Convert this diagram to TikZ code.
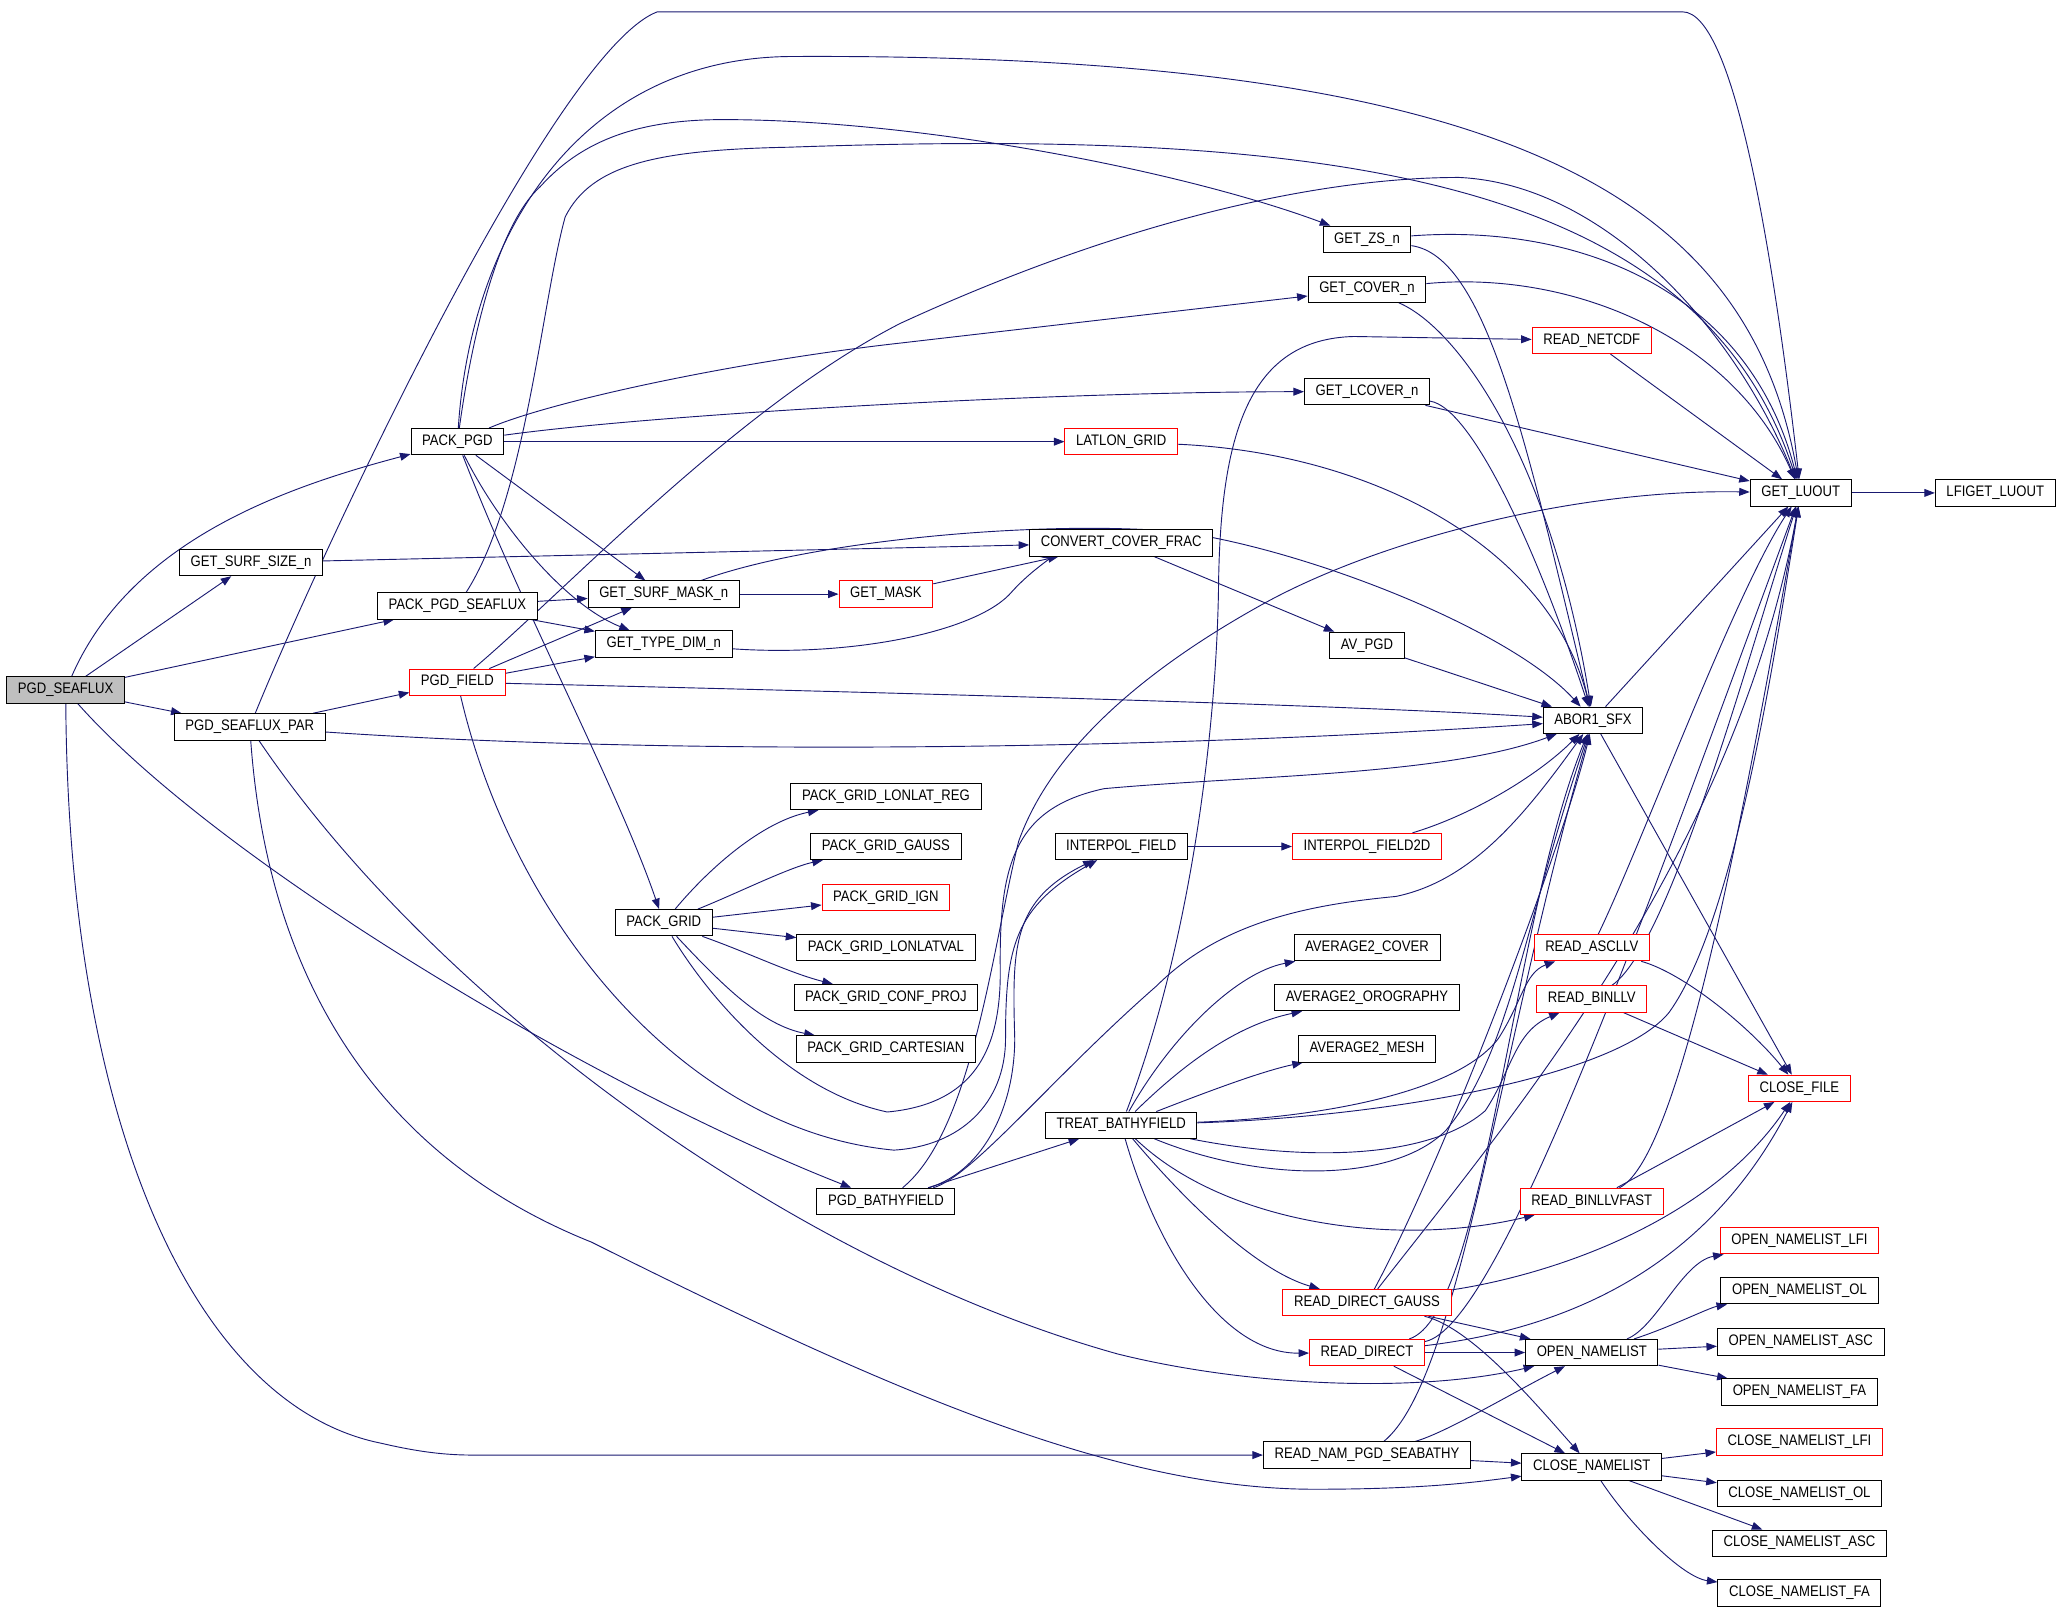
\documentclass[tikz,border=0pt]{standalone}
\usepackage{fontspec}
\newfontfamily\dxfont{Liberation Sans}[FakeStretch=0.86]
\usepackage{xcolor}
\usetikzlibrary{arrows.meta}
\usetikzlibrary{backgrounds}
\definecolor{midnight}{RGB}{25,25,112}
\tikzset{fn/.style={draw=black, fill=white, line width=0.75pt, minimum height=20pt,
   inner xsep=8.5pt, inner ysep=0pt, font=\dxfont\fontsize{11.6}{12}\selectfont},
 fnred/.style={fn, draw=red},
 fnroot/.style={fn, fill=black!25},
 call/.style={draw=midnight, line width=0.7pt, -{Triangle[length=8pt,width=6pt]}},
 }

\begin{document}
\begin{tikzpicture}[x=1pt, y=-1pt]
        \useasboundingbox (0,0) rectangle (1568,1228);
        \node[fnroot] (seaflux) at (50,525) {PGD\_SEAFLUX};
        \node[fn] (surfsize) at (191,428) {GET\_SURF\_SIZE\_n};
        \node[fn] (seafluxpar) at (190,553) {PGD\_SEAFLUX\_PAR};
        \node[fn] (packpgd) at (348,336) {PACK\_PGD};
        \node[fn] (packseaflux) at (348,461) {PACK\_PGD\_SEAFLUX};
        \node[fnred] (pgdfield) at (348,519) {PGD\_FIELD};
        \node[fn] (surfmask) at (505,452) {GET\_SURF\_MASK\_n};
        \node[fn] (typedim) at (505,490) {GET\_TYPE\_DIM\_n};
        \node[fnred] (getmask) at (674,452) {GET\_MASK};
        \node[fn] (convert) at (853,413) {CONVERT\_COVER\_FRAC};
        \node[fnred] (latlon) at (853,336) {LATLON\_GRID};
        \node[fn] (getzs) at (1040,182) {GET\_ZS\_n};
        \node[fn] (getcover) at (1040,220) {GET\_COVER\_n};
        \node[fnred] (readnetcdf) at (1211,259) {READ\_NETCDF};
        \node[fn] (getlcover) at (1040,298) {GET\_LCOVER\_n};
        \node[fn] (luout) at (1370,375) {GET\_LUOUT};
        \node[fn] (lfiget) at (1518,375) {LFIGET\_LUOUT};
        \node[fn] (avpgd) at (1040,491) {AV\_PGD};
        \node[fn] (abor) at (1212,548) {ABOR1\_SFX};
        \node[fn] (lonlatreg) at (674,606) {PACK\_GRID\_LONLAT\_REG};
        \node[fn] (gauss) at (674,644) {PACK\_GRID\_GAUSS};
        \node[fnred] (ign) at (674,683) {PACK\_GRID\_IGN};
        \node[fn] (packgrid) at (505,702) {PACK\_GRID};
        \node[fn] (lonlatval) at (674,721) {PACK\_GRID\_LONLATVAL};
        \node[fn] (confproj) at (674,759) {PACK\_GRID\_CONF\_PROJ};
        \node[fn] (cartesian) at (674,798) {PACK\_GRID\_CARTESIAN};
        \node[fn] (interpol) at (853,644) {INTERPOL\_FIELD};
        \node[fnred] (interpol2d) at (1040,644) {INTERPOL\_FIELD2D};
        \node[fn] (avcover) at (1040,721) {AVERAGE2\_COVER};
        \node[fn] (avoro) at (1040,759) {AVERAGE2\_OROGRAPHY};
        \node[fn] (avmesh) at (1040,798) {AVERAGE2\_MESH};
        \node[fnred] (readascllv) at (1211,721) {READ\_ASCLLV};
        \node[fnred] (readbinllv) at (1211,760) {READ\_BINLLV};
        \node[fnred] (closefile) at (1369,828) {CLOSE\_FILE};
        \node[fn] (treat) at (853,856) {TREAT\_BATHYFIELD};
        \node[fn] (bathy) at (674,914) {PGD\_BATHYFIELD};
        \node[fnred] (readfast) at (1211,914) {READ\_BINLLVFAST};
        \node[fnred] (onlfi) at (1369,944) {OPEN\_NAMELIST\_LFI};
        \node[fnred] (readgauss) at (1040,991) {READ\_DIRECT\_GAUSS};
        \node[fn] (onol) at (1369,982) {OPEN\_NAMELIST\_OL};
        \node[fnred] (readdirect) at (1040,1029) {READ\_DIRECT};
        \node[fn] (opennam) at (1211,1029) {OPEN\_NAMELIST};
        \node[fn] (onasc) at (1370,1021) {OPEN\_NAMELIST\_ASC};
        \node[fn] (onfa) at (1369,1059) {OPEN\_NAMELIST\_FA};
        \node[fn] (readnam) at (1040,1107) {READ\_NAM\_PGD\_SEABATHY};
        \node[fn] (closenam) at (1211,1116) {CLOSE\_NAMELIST};
        \node[fnred] (cnlfi) at (1369,1097) {CLOSE\_NAMELIST\_LFI};
        \node[fn] (cnol) at (1369,1136) {CLOSE\_NAMELIST\_OL};
        \node[fn] (cnasc) at (1369,1174) {CLOSE\_NAMELIST\_ASC};
        \node[fn] (cnfa) at (1369,1212) {CLOSE\_NAMELIST\_FA};

        \begin{scope}[on background layer]
        % PGD_SEAFLUX
        \draw[call] (seaflux) .. controls (100,410) and (220,370) .. (packpgd);
        \draw[call] (seaflux) -- (surfsize);
        \draw[call] (seaflux) -- (packseaflux);
        \draw[call] (seaflux) -- (seafluxpar);
        \draw[call] (seaflux) .. controls (170,660) and (460,830) .. (bathy);
        \draw[call] (seaflux) .. controls (52,860) and (150,1070) .. (290,1098) .. controls (320,1105) and (340,1107) .. (360,1107) -- (readnam);
        % PGD_SEAFLUX_PAR
        \draw[call] (seafluxpar) -- (pgdfield);
        \draw[call] (seafluxpar) .. controls (500,574) and (850,572) .. (abor);
        \draw[call] (seafluxpar) .. controls (240,430) and (420,40) .. (500,9) -- (1280,9) .. controls (1320,9) and (1350,200) .. (luout);
        \draw[call] (seafluxpar) .. controls (330,760) and (600,960) .. (850,1030) .. controls (950,1055) and (1080,1060) .. (opennam);
        \draw[call] (seafluxpar) .. controls (205,760) and (300,885) .. (450,945) .. controls (680,1060) and (850,1133) .. (1000,1133) .. controls (1080,1133) and (1120,1128) .. (closenam);
        % PACK_PGD
        \draw[call] (packpgd) .. controls (358,180) and (440,45) .. (600,43) .. controls (1150,40) and (1330,150) .. (luout);
        \draw[call] (packpgd) .. controls (360,250) and (380,170) .. (411,142) .. controls (440,110) and (480,91) .. (550,91) .. controls (700,91) and (900,130) .. (getzs);
        \draw[call] (packpgd) .. controls (420,305) and (560,275) .. (685,261) -- (getcover);
        \draw[call] (packpgd) .. controls (500,315) and (800,298) .. (getlcover);
        \draw[call] (packpgd) -- (latlon);
        \draw[call] (packpgd) -- (surfmask);
        \draw[call] (packpgd) .. controls (380,400) and (430,460) .. (typedim);
        \draw[call] (packpgd) .. controls (400,470) and (470,600) .. (packgrid);
        % PACK_PGD_SEAFLUX
        \draw[call] (packseaflux) -- (surfmask);
        \draw[call] (packseaflux) -- (typedim);
        \draw[call] (packseaflux) .. controls (400,380) and (412,230) .. (430,165) .. controls (450,125) and (500,114) .. (600,112) .. controls (1000,98) and (1290,130) .. (luout);
        % PGD_FIELD
        \draw[call] (pgdfield) -- (typedim);
        \draw[call] (pgdfield) -- (surfmask);
        \draw[call] (pgdfield) .. controls (600,525) and (1000,535) .. (abor);
        \draw[call] (pgdfield) .. controls (430,450) and (560,310) .. (685,246) .. controls (850,170) and (1000,135) .. (1110,135) .. controls (1220,140) and (1320,250) .. (luout);
        \draw[call] (pgdfield) .. controls (390,700) and (520,860) .. (680,875) .. controls (730,872) and (765,840) .. (765,790) .. controls (765,720) and (772,690) .. (interpol);
        % second column
        \draw[call] (surfsize) -- (convert);
        \draw[call] (surfmask) -- (getmask);
        \draw[call] (surfmask) .. controls (620,410) and (800,395) .. (900,405) .. controls (1000,420) and (1150,480) .. (abor);
        \draw[call] (typedim) .. controls (650,500) and (745,480) .. (770,450) .. controls (790,428) and (810,420) .. (convert);
        \draw[call] (getmask) -- (convert);
        \draw[call] (convert) -- (avpgd);
        \draw[call] (latlon) .. controls (1050,345) and (1180,420) .. (abor);
        \draw[call] (avpgd) -- (abor);
        \draw[call] (getzs) .. controls (1200,170) and (1330,220) .. (luout);
        \draw[call] (getzs) .. controls (1130,195) and (1160,330) .. (abor);
        \draw[call] (getcover) .. controls (1200,205) and (1320,260) .. (luout);
        \draw[call] (getcover) .. controls (1110,250) and (1180,350) .. (abor);
        \draw[call] (getlcover) -- (luout);
        \draw[call] (getlcover) .. controls (1120,310) and (1170,420) .. (abor);
        \draw[call] (readnetcdf) -- (luout);
        \draw[call] (abor) -- (luout);
        \draw[call] (abor) -- (closefile);
        \draw[call] (luout) -- (lfiget);
        % PACK_GRID
        \draw[call] (packgrid) .. controls (540,660) and (580,625) .. (lonlatreg);
        \draw[call] (packgrid) .. controls (560,680) and (600,660) .. (gauss);
        \draw[call] (packgrid) -- (ign);
        \draw[call] (packgrid) -- (lonlatval);
        \draw[call] (packgrid) .. controls (570,725) and (600,740) .. (confproj);
        \draw[call] (packgrid) .. controls (550,750) and (580,780) .. (cartesian);
        \draw[call] (packgrid) .. controls (540,760) and (600,830) .. (675,846) .. controls (740,840) and (761,800) .. (761,740) .. controls (760,660) and (770,615) .. (840,600) .. controls (950,590) and (1100,590) .. (abor);
        \draw[call] (interpol) -- (interpol2d);
        \draw[call] (interpol2d) .. controls (1120,620) and (1170,590) .. (abor);
        % PGD_BATHYFIELD
        \draw[call] (bathy) -- (treat);
        \draw[call] (bathy) .. controls (750,890) and (772,840) .. (772,790) .. controls (770,720) and (770,685) .. (interpol);
        \draw[call] (bathy) .. controls (740,895) and (800,820) .. (880,750) .. controls (930,700) and (1000,688) .. (1062,682) .. controls (1120,670) and (1160,620) .. (abor);
        \draw[call] (bathy) .. controls (740,860) and (755,720) .. (775,640) .. controls (800,570) and (870,510) .. (960,460) .. controls (1050,410) and (1200,372) .. (luout);
        % TREAT_BATHYFIELD
        \draw[call] (treat) .. controls (890,790) and (940,740) .. (avcover);
        \draw[call] (treat) .. controls (900,810) and (940,780) .. (avoro);
        \draw[call] (treat) .. controls (920,830) and (960,815) .. (avmesh);
        \draw[call] (treat) .. controls (905,720) and (925,560) .. (927,450) .. controls (928,330) and (950,258) .. (1030,256) -- (readnetcdf);
        \draw[call] (treat) .. controls (1010,850) and (1110,830) .. (1140,790) .. controls (1158,762) and (1160,740) .. (readascllv);
        \draw[call] (treat) .. controls (1000,885) and (1090,880) .. (1130,845) .. controls (1150,815) and (1152,785) .. (readbinllv);
        \draw[call] (treat) .. controls (1050,850) and (1230,820) .. (1270,770) .. controls (1320,700) and (1350,500) .. (luout);
        \draw[call] (treat) .. controls (960,900) and (1060,900) .. (1100,860) .. controls (1150,800) and (1160,700) .. (abor);
        \draw[call] (treat) .. controls (930,930) and (1060,950) .. (readfast);
        \draw[call] (treat) .. controls (890,900) and (950,965) .. (readgauss);
        \draw[call] (treat) .. controls (880,950) and (930,1030) .. (readdirect);
        % readers
        \draw[call] (readascllv) .. controls (1250,640) and (1320,450) .. (luout);
        \draw[call] (readascllv) .. controls (1280,740) and (1330,780) .. (closefile);
        \draw[call] (readbinllv) .. controls (1270,720) and (1330,500) .. (luout);
        \draw[call] (readbinllv) -- (closefile);
        \draw[call] (readfast) .. controls (1280,880) and (1330,600) .. (luout);
        \draw[call] (readfast) -- (closefile);
        \draw[call] (readgauss) -- (opennam);
        \draw[call] (readgauss) .. controls (1120,1010) and (1170,1070) .. (closenam);
        \draw[call] (readgauss) .. controls (1180,970) and (1300,930) .. (closefile);
        \draw[call] (readgauss) .. controls (1100,880) and (1190,640) .. (abor);
        \draw[call] (readgauss) .. controls (1150,850) and (1320,650) .. (luout);
        \draw[call] (readdirect) -- (opennam);
        \draw[call] (readdirect) -- (closenam);
        \draw[call] (readdirect) .. controls (1200,1010) and (1300,960) .. (closefile);
        \draw[call] (readdirect) .. controls (1130,1000) and (1150,700) .. (abor);
        \draw[call] (readdirect) .. controls (1140,1010) and (1250,700) .. (luout);
        \draw[call] (readnam) .. controls (1100,1090) and (1150,1060) .. (opennam);
        \draw[call] (readnam) -- (closenam);
        \draw[call] (readnam) .. controls (1110,1050) and (1140,800) .. (abor);
        % namelists
        \draw[call] (opennam) .. controls (1260,1010) and (1280,960) .. (onlfi);
        \draw[call] (opennam) .. controls (1270,1010) and (1300,995) .. (onol);
        \draw[call] (opennam) -- (onasc);
        \draw[call] (opennam) -- (onfa);
        \draw[call] (closenam) -- (cnlfi);
        \draw[call] (closenam) -- (cnol);
        \draw[call] (closenam) -- (cnasc);
        \draw[call] (closenam) .. controls (1240,1160) and (1280,1200) .. (cnfa);
        \end{scope}
    \end{tikzpicture}
\end{document}
